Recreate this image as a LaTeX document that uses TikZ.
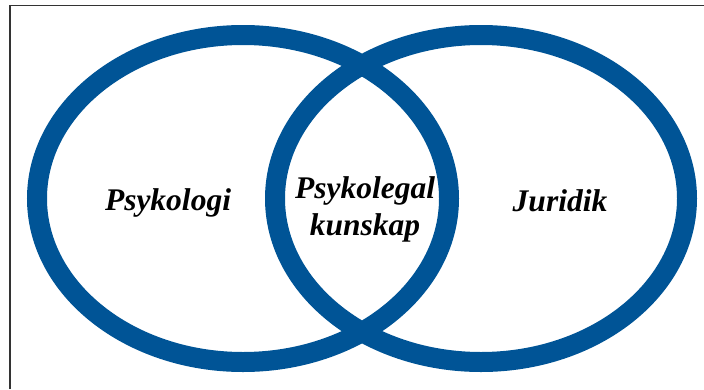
\documentclass[tikz,border=0pt]{standalone}
\usepackage{fontspec}
\setmainfont{Liberation Serif}
\definecolor{vennblue}{RGB}{0,84,150}
\tikzset{
  ring/.style={line width=20pt, draw=vennblue},
  field/.style={font=\fontsize{31.5}{37}\selectfont\bfseries\itshape, align=center, inner sep=0pt}
}

\begin{document}
\begin{tikzpicture}[x=1pt,y=-1pt]
		%%%%% START %%%%%
		\useasboundingbox (0,0) rectangle (704,389);
		
		\draw[line width=1.5pt, color=black!80] (10,389) -- (10,5.5) -- (704,5.5);
		
		\draw[ring] (243,198.5) ellipse [x radius=206pt, y radius=163.5pt];
		\draw[ring] (481,198.5) ellipse [x radius=206pt, y radius=163.5pt];
		
		\node[field, anchor=base] (psykologi) at (168,210) {Psykologi};
		\node[field, anchor=center] (psykolegal) at (365,209) {Psykolegal\\kunskap};
		\node[field, anchor=base] (juridik) at (560,211) {Juridik};
		
		%%%%% END %%%%%
	\end{tikzpicture}
\end{document}
